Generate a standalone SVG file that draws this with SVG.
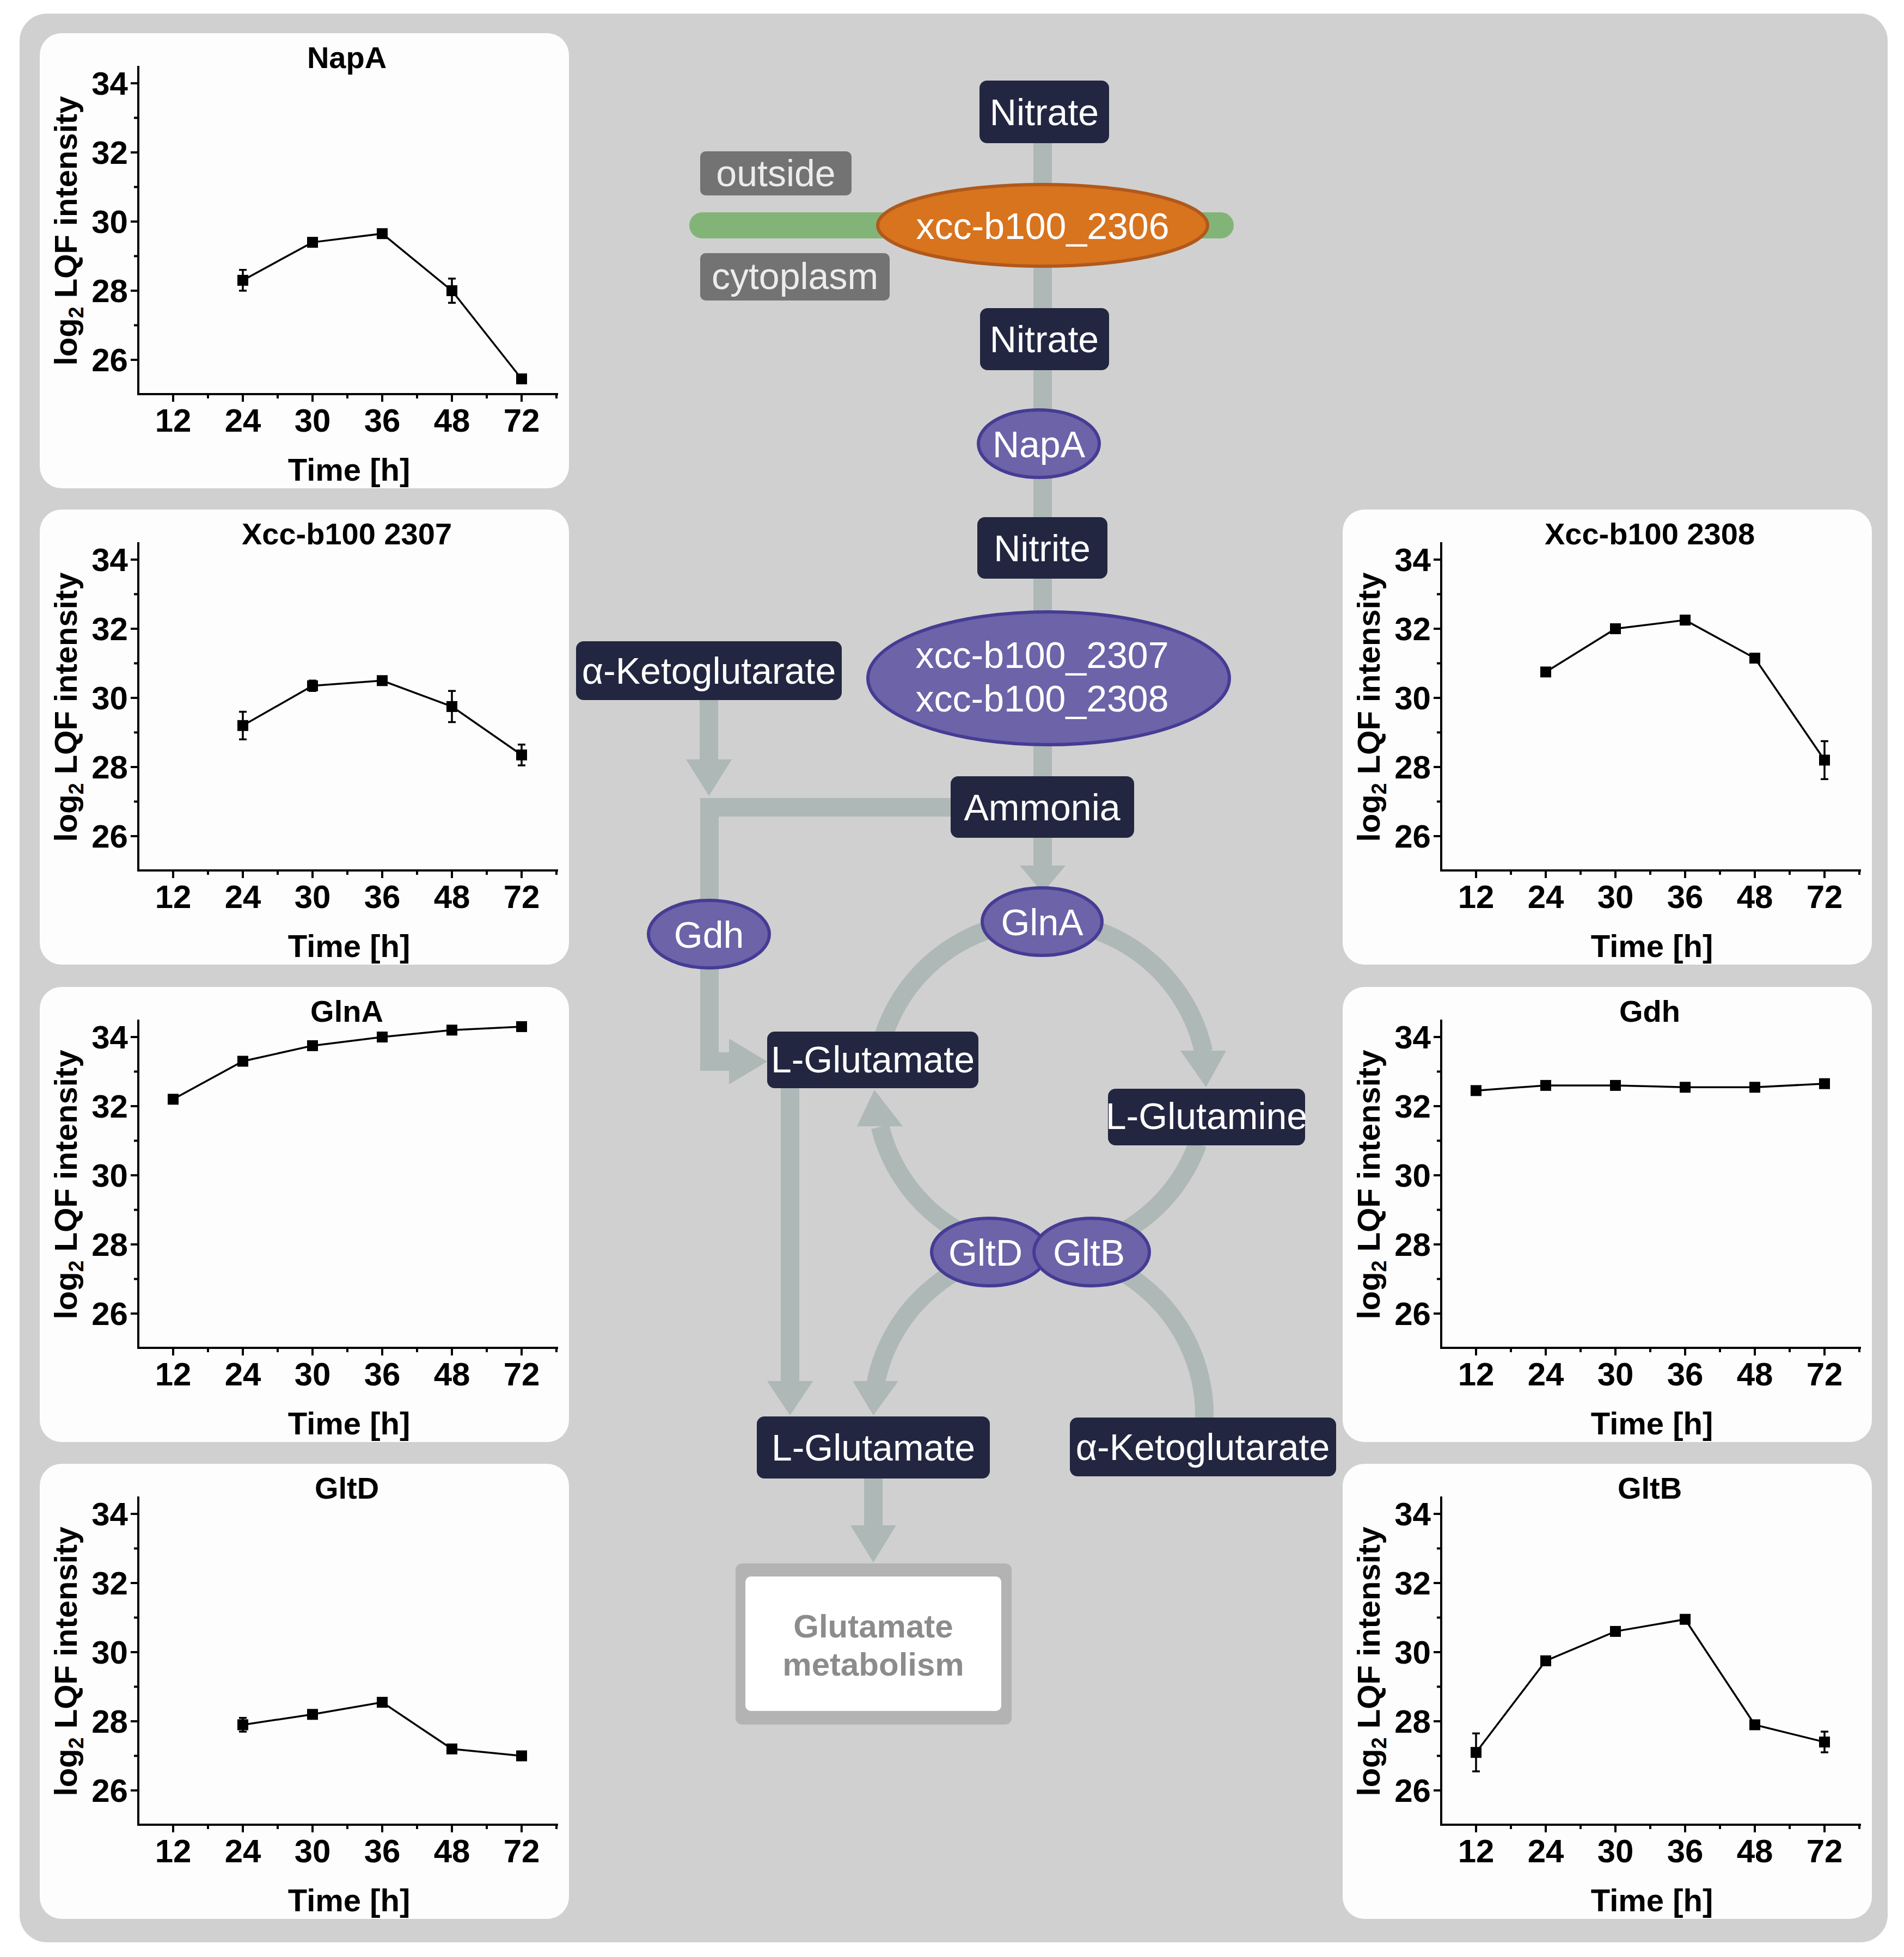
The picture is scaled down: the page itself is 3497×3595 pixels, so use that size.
<svg xmlns="http://www.w3.org/2000/svg" xmlns:xlink="http://www.w3.org/1999/xlink" width="3497" height="3595" viewBox="0 0 3497 3595">
<style>
.pn{fill:#fdfdfd}
.ax{fill:none;stroke:#000;stroke-width:4}
.ln{fill:none;stroke:#000;stroke-width:3.5}
.eb{fill:none;stroke:#000;stroke-width:3.5}
.ct{font-family:"Liberation Sans",Arial,sans-serif;font-weight:bold;fill:#000}
.tl{font-size:56px;text-anchor:middle}
.yl{font-size:60px;text-anchor:end}
.xl{font-size:60px;text-anchor:middle}
.al{font-size:58px;text-anchor:middle}
.bx{fill:#222640}
.bt{font-family:"Liberation Sans",Arial,sans-serif;font-size:68px;fill:#fff;text-anchor:middle}
.el{fill:#6c63a8;stroke:#463c94;stroke-width:6}
.con{fill:none;stroke:#aeb8b6;stroke-width:34}
.ah{fill:#aeb8b6}
.gb{fill:#737373}
.gt{font-family:"Liberation Sans",Arial,sans-serif;font-size:68px;fill:#ececec;text-anchor:middle}
</style>
<defs>
<rect id="m" x="-10" y="-10" width="20" height="20" fill="#000"/>
<g id="frame">
<rect class="pn" x="0" y="0" width="972" height="836" rx="40"/>
<path class="ax" d="M181,60 V663 H952"/>
<path class="ax" d="M167,92H181M167,219H181M167,346H181M167,473H181M167,600H181M173,155.5H181M173,282.5H181M173,409.5H181M173,536.5H181M245,663V677M373,663V677M501,663V677M629,663V677M757,663V677M885,663V677M309,663V671M437,663V671M565,663V671M693,663V671M821,663V671M949,663V671"/>
<g class="ct yl"><text x="162" y="113">34</text><text x="162" y="240">32</text><text x="162" y="367">30</text><text x="162" y="494">28</text><text x="162" y="621">26</text></g>
<g class="ct xl"><text x="245" y="732">12</text><text x="373" y="732">24</text><text x="501" y="732">30</text><text x="629" y="732">36</text><text x="757" y="732">48</text><text x="885" y="732">72</text></g>
<text class="ct al" x="568" y="822">Time [h]</text>
<text class="ct al" transform="translate(68,363) rotate(-90)">log<tspan font-size="38" dy="12">2</tspan><tspan dy="-12"> LQF intensity</tspan></text>
</g>
</defs>
<rect x="0" y="0" width="3497" height="3595" fill="#fff"/>
<rect x="36" y="25" width="3431" height="3543" rx="50" fill="#d0d0d0"/>

<g id="panel-napa" transform="translate(73,61)">
<use xlink:href="#frame"/>
<text class="ct tl" x="564" y="64">NapA</text>
<polyline class="ln" points="373,453.9 501,384.1 629,368.2 757,473 885,635"/>
<path class="eb" d="M373,434.8V472.9M366,434.8H380M366,472.9H380M757,450.8V495.2M750,450.8H764M750,495.2H764"/>
<use xlink:href="#m" x="373" y="453.9"/><use xlink:href="#m" x="501" y="384.1"/><use xlink:href="#m" x="629" y="368.2"/><use xlink:href="#m" x="757" y="473"/><use xlink:href="#m" x="885" y="635"/>
</g>

<g id="panel-2307" transform="translate(73,936)">
<use xlink:href="#frame"/>
<text class="ct tl" x="564" y="64">Xcc-b100 2307</text>
<polyline class="ln" points="373,396.8 501,323.8 629,314.3 757,361.9 885,450.8"/>
<path class="eb" d="M373,371.4V422.2M366,371.4H380M366,422.2H380M501,314.3V333.3M494,314.3H508M494,333.3H508M757,333.3V390.4M750,333.3H764M750,390.4H764M885,431.8V469.9M878,431.8H892M878,469.9H892"/>
<use xlink:href="#m" x="373" y="396.8"/><use xlink:href="#m" x="501" y="323.8"/><use xlink:href="#m" x="629" y="314.3"/><use xlink:href="#m" x="757" y="361.9"/><use xlink:href="#m" x="885" y="450.8"/>
</g>

<g id="panel-glna" transform="translate(73,1813)">
<use xlink:href="#frame"/>
<text class="ct tl" x="564" y="64">GlnA</text>
<polyline class="ln" points="245,206.3 373,136.5 501,107.9 629,92 757,79.3 885,72.9"/>
<use xlink:href="#m" x="245" y="206.3"/><use xlink:href="#m" x="373" y="136.5"/><use xlink:href="#m" x="501" y="107.9"/><use xlink:href="#m" x="629" y="92"/><use xlink:href="#m" x="757" y="79.3"/><use xlink:href="#m" x="885" y="72.9"/>
</g>

<g id="panel-gltd" transform="translate(73,2689)">
<use xlink:href="#frame"/>
<text class="ct tl" x="564" y="64">GltD</text>
<polyline class="ln" points="373,479.4 501,460.3 629,438.1 757,523.8 885,536.5"/>
<path class="eb" d="M373,466.7V492.1M366,466.7H380M366,492.1H380"/>
<use xlink:href="#m" x="373" y="479.4"/><use xlink:href="#m" x="501" y="460.3"/><use xlink:href="#m" x="629" y="438.1"/><use xlink:href="#m" x="757" y="523.8"/><use xlink:href="#m" x="885" y="536.5"/>
</g>

<g id="panel-2308" transform="translate(2466,936)">
<use xlink:href="#frame"/>
<text class="ct tl" x="564" y="64">Xcc-b100 2308</text>
<polyline class="ln" points="373,298.4 501,219 629,203.1 757,273 885,460.3"/>
<path class="eb" d="M885,425.4V495.2M878,425.4H892M878,495.2H892"/>
<use xlink:href="#m" x="373" y="298.4"/><use xlink:href="#m" x="501" y="219"/><use xlink:href="#m" x="629" y="203.1"/><use xlink:href="#m" x="757" y="273"/><use xlink:href="#m" x="885" y="460.3"/>
</g>

<g id="panel-gdh" transform="translate(2466,1813)">
<use xlink:href="#frame"/>
<text class="ct tl" x="564" y="64">Gdh</text>
<polyline class="ln" points="245,190.4 373,180.9 501,180.9 629,184.3 757,184.3 885,177.7"/>
<use xlink:href="#m" x="245" y="190.4"/><use xlink:href="#m" x="373" y="180.9"/><use xlink:href="#m" x="501" y="180.9"/><use xlink:href="#m" x="629" y="184.3"/><use xlink:href="#m" x="757" y="184.3"/><use xlink:href="#m" x="885" y="177.7"/>
</g>

<g id="panel-gltb" transform="translate(2466,2689)">
<use xlink:href="#frame"/>
<text class="ct tl" x="564" y="64">GltB</text>
<polyline class="ln" points="245,530.2 373,361.9 501,307.9 629,285.7 757,479.4 885,511.1"/>
<path class="eb" d="M245,495.2V565.1M238,495.2H252M238,565.1H252M757,473V485.7M750,473H764M750,485.7H764M885,492V530M878,492H892M878,530H892"/>
<use xlink:href="#m" x="245" y="530.2"/><use xlink:href="#m" x="373" y="361.9"/><use xlink:href="#m" x="501" y="307.9"/><use xlink:href="#m" x="629" y="285.7"/><use xlink:href="#m" x="757" y="479.4"/><use xlink:href="#m" x="885" y="511.1"/>
</g>

<g id="connectors">
<rect x="1266" y="390" width="1000" height="48" rx="24" fill="#82b477"/>
<path class="con" d="M1915,263V1426M1915,1539V1592"/>
<polygon class="ah" points="1873,1590 1957,1590 1915,1640"/>
<path class="con" d="M1302,1286V1398"/>
<polygon class="ah" points="1260,1395 1344,1395 1302,1462"/>
<polyline class="con" style="stroke-linejoin:miter" points="1746,1483 1303,1483 1303,1950 1342,1950"/>
<polygon class="ah" points="1339,1908 1339,1992 1409,1950"/>
<path class="con" d="M1451,1999V2540"/>
<polygon class="ah" points="1409,2537 1493,2537 1451,2600"/>
<path class="con" d="M1913,1692 A305,305 0 0 1 2210.5,1932"/>
<polygon class="ah" points="2168,1930 2252,1930 2215,1997"/>
<path class="con" d="M2199.6,2101.3 A305,305 0 0 1 1913,2302 A305,305 0 0 1 1616.5,2070"/>
<polygon class="ah" points="1574,2069 1658,2069 1606,2002"/>
<path class="con" d="M1612.6,1944 A305,305 0 0 1 1913,1692"/>
<path class="con" d="M1907,2295 A305,305 0 0 0 1608.6,2540"/>
<polygon class="ah" points="1566,2537 1650,2537 1604,2600"/>
<path class="con" d="M1907,2295 A305,305 0 0 1 2212,2604"/>
<path class="con" d="M1604,2716V2805"/>
<polygon class="ah" points="1562,2802 1646,2802 1604,2870"/>
</g>

<g id="outside"><rect class="gb" x="1286" y="278" width="278" height="81" rx="10"/><text class="gt" x="1425" y="342">outside</text></g>
<g id="cytoplasm"><rect class="gb" x="1286" y="465" width="348" height="87" rx="10"/><text class="gt" x="1460" y="531">cytoplasm</text></g>
<g id="xcc2306"><ellipse cx="1915" cy="414" rx="303" ry="75" fill="#d8731e" stroke="#b0591c" stroke-width="6"/><text class="bt" x="1915" y="439" font-size="72">xcc-b100_2306</text></g>
<g id="nitrate1"><rect class="bx" x="1799" y="148" width="238" height="115" rx="14"/><text class="bt" x="1918" y="230">Nitrate</text></g>
<g id="nitrate2"><rect class="bx" x="1800" y="566" width="237" height="114" rx="14"/><text class="bt" x="1918" y="647">Nitrate</text></g>
<g id="napa"><ellipse class="el" cx="1908" cy="815" rx="111" ry="62"/><text class="bt" x="1908" y="840" font-size="70">NapA</text></g>
<g id="nitrite"><rect class="bx" x="1795" y="950" width="239" height="113" rx="14"/><text class="bt" x="1914" y="1031">Nitrite</text></g>
<g id="xcc2307"><ellipse class="el" cx="1926" cy="1246" rx="332" ry="122"/><text class="bt" x="1914" y="1227" font-size="72">xcc-b100_2307</text><text class="bt" x="1914" y="1307" font-size="72">xcc-b100_2308</text></g>
<g id="aketo1"><rect class="bx" x="1058" y="1178" width="488" height="108" rx="14"/><text class="bt" x="1302" y="1256">α-Ketoglutarate</text></g>
<g id="ammonia"><rect class="bx" x="1746" y="1426" width="337" height="113" rx="14"/><text class="bt" x="1914" y="1507">Ammonia</text></g>
<g id="gdh"><ellipse class="el" cx="1302" cy="1716" rx="111" ry="62"/><text class="bt" x="1302" y="1741" font-size="70">Gdh</text></g>
<g id="glna"><ellipse class="el" cx="1914" cy="1693" rx="110" ry="62"/><text class="bt" x="1914" y="1718" font-size="70">GlnA</text></g>
<g id="lglut1"><rect class="bx" x="1409" y="1895" width="388" height="104" rx="14"/><text class="bt" x="1603" y="1970" font-size="62">L-Glutamate</text></g>
<g id="lglutamine"><rect class="bx" x="2035" y="2000" width="362" height="104" rx="14"/><text class="bt" x="2216" y="2074" font-size="58">L-Glutamine</text></g>
<g id="gltd"><ellipse class="el" cx="1817" cy="2300" rx="106" ry="62"/><text class="bt" x="1810" y="2325" font-size="70">GltD</text></g>
<g id="gltb"><ellipse class="el" cx="2005" cy="2300" rx="106" ry="62"/><text class="bt" x="2000" y="2325" font-size="70">GltB</text></g>
<g id="lglut2"><rect class="bx" x="1390" y="2602" width="428" height="114" rx="14"/><text class="bt" x="1604" y="2683" font-size="70">L-Glutamate</text></g>
<g id="aketo2"><rect class="bx" x="1965" y="2604" width="489" height="108" rx="14"/><text class="bt" x="2209" y="2682">α-Ketoglutarate</text></g>
<g id="glutmet"><rect x="1351" y="2872" width="507" height="296" rx="12" fill="#b3b3b3"/><rect x="1369" y="2896" width="470" height="247" rx="10" fill="#fff"/><text x="1604" y="3008" font-family="Liberation Sans,Arial,sans-serif" font-weight="bold" font-size="60" fill="#8c8c8c" text-anchor="middle">Glutamate</text><text x="1604" y="3078" font-family="Liberation Sans,Arial,sans-serif" font-weight="bold" font-size="60" fill="#8c8c8c" text-anchor="middle">metabolism</text></g>
</svg>
